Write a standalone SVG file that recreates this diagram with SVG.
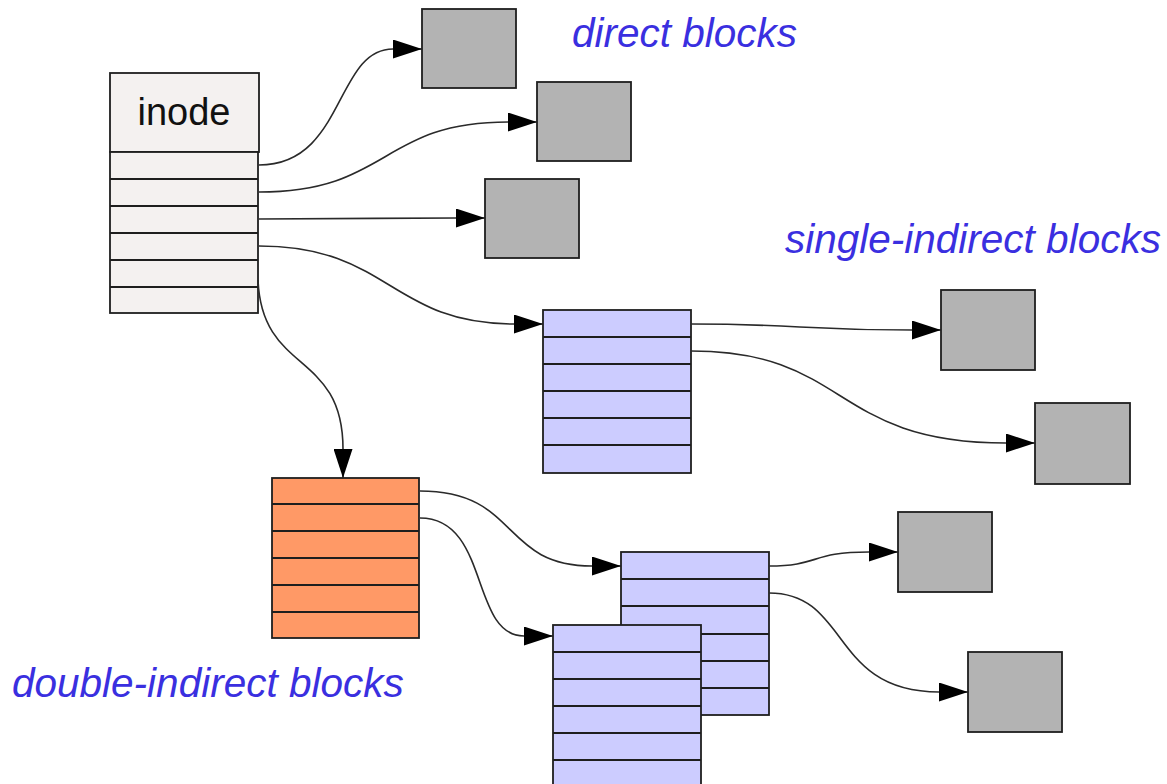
<svg xmlns="http://www.w3.org/2000/svg" width="1167" height="784" viewBox="0 0 1167 784">
  <style>
    .box { stroke: #1e1e1e; stroke-width: 1.8; }
    .row { stroke: #1e1e1e; stroke-width: 1.8; }
    .inode { fill: #f4f1f0; }
    .data { fill: #b3b3b3; }
    .ind { fill: #ccccff; }
    .dbl { fill: #ff9966; }
    .wire { fill: none; stroke: #2a2a2a; stroke-width: 1.6; marker-end: url(#arrow); }
    .label { font-family: "Liberation Sans", Arial, sans-serif; font-style: italic; font-size: 40.5px; fill: #3a2fe0; }
  </style>
  <defs>
    <marker id="arrow" viewBox="0 0 29 19" refX="29" refY="9.5" markerWidth="29" markerHeight="19" markerUnits="userSpaceOnUse" orient="auto">
      <path d="M0,0 L29,9.5 L0,19 Z" fill="#000"/>
    </marker>
  </defs>
  <rect width="1167" height="784" fill="#fff"/>

  <!-- inode -->
  <g id="inode">
    <rect class="box inode" x="110" y="73" width="149" height="79"/>
    <text x="184" y="125" text-anchor="middle" font-family="Liberation Sans, Arial, sans-serif" font-size="38" fill="#111">inode</text>
    <rect class="box inode" x="110" y="152" width="148" height="161"/>
    <path class="row" d="M110,179H258M110,206H258M110,233H258M110,260H258M110,287H258"/>
  </g>

  <!-- direct data blocks -->
  <g id="direct1"><rect class="box data" x="422" y="9" width="94" height="79"/></g>
  <g id="direct2"><rect class="box data" x="537" y="82" width="94" height="79"/></g>
  <g id="direct3"><rect class="box data" x="485" y="179" width="94" height="79"/></g>

  <!-- single-indirect block and its data blocks -->
  <g id="single">
    <rect class="box ind" x="543" y="310" width="148" height="163"/>
    <path class="row" d="M543,337H691M543,364H691M543,391H691M543,418H691M543,445H691"/>
  </g>
  <g id="single-data1"><rect class="box data" x="941" y="290" width="94" height="80"/></g>
  <g id="single-data2"><rect class="box data" x="1035" y="403" width="95" height="81"/></g>

  <!-- double-indirect block -->
  <g id="double">
    <rect class="box dbl" x="272" y="478" width="147" height="160"/>
    <path class="row" d="M272,504H419M272,531H419M272,558H419M272,585H419M272,612H419"/>
  </g>

  <!-- second-level indirect blocks -->
  <g id="level2-a">
    <rect class="box ind" x="621" y="552" width="148" height="163"/>
    <path class="row" d="M621,579H769M621,606H769M621,634H769M621,661H769M621,688H769"/>
  </g>
  <g id="level2-b">
    <rect class="box ind" x="553" y="625" width="148" height="162"/>
    <path class="row" d="M553,652H701M553,679H701M553,706H701M553,733H701M553,760H701"/>
  </g>
  <g id="level2-data1"><rect class="box data" x="898" y="512" width="94" height="80"/></g>
  <g id="level2-data2"><rect class="box data" x="968" y="652" width="94" height="80"/></g>

  <!-- labels -->
  <g id="labels">
    <text class="label" x="572" y="47">direct blocks</text>
    <text class="label" x="785" y="253">single-indirect blocks</text>
    <text class="label" x="12" y="697">double-indirect blocks</text>
  </g>

  <!-- pointers: curve up to the arrow base, then straight to the tip -->
  <g id="connectors">
    <path class="wire" d="M259,165 C345,165 335,49 393,49 L422,49"/>
    <path class="wire" d="M259,192 C390,192 380,122 508,122 L537,122"/>
    <path class="wire" d="M259,219 C350,219 380,218 456,218 L485,218"/>
    <path class="wire" d="M259,246 C390,246 390,324 514,324 L543,324"/>
    <path class="wire" d="M258,280 C262,375 343,350 343,449 L343,478"/>
    <path class="wire" d="M691,324 C800,324 800,330 912,330 L941,330"/>
    <path class="wire" d="M691,351 C850,351 830,443 1006,443 L1035,443"/>
    <path class="wire" d="M420,491 C520,491 500,566 592,566 L621,566"/>
    <path class="wire" d="M420,518 C490,518 470,636 524,636 L553,636"/>
    <path class="wire" d="M769,566 C820,566 810,552 869,552 L898,552"/>
    <path class="wire" d="M769,593 C850,593 830,692 939,692 L968,692"/>
  </g>
</svg>
